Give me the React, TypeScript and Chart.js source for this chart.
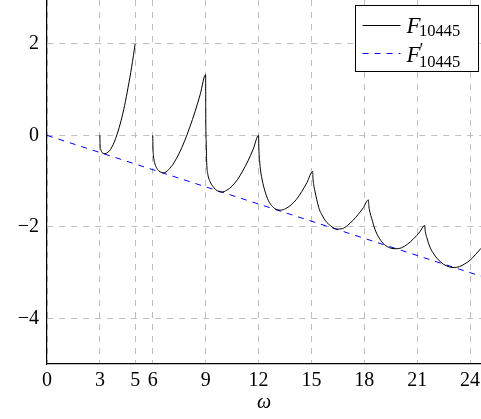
import React, { useEffect, useRef } from "react";
import { Chart, registerables } from "chart.js";

Chart.register(...registerables);

// F_10445 (black); null breaks the curve between 5 and 6
const omegaF = [
  3.0, 3.01, 3.04, 3.09, 3.17, 3.29, 3.45, 3.6, 3.8, 4.0, 4.2, 4.4, 4.6, 4.8, 5.0,
  5.5,
  6.0, 6.01, 6.04, 6.1, 6.2, 6.35, 6.5, 6.62, 6.9, 7.2, 7.5, 7.8, 8.1, 8.4, 8.7, 9.0,
  9.005, 9.03, 9.06, 9.12, 9.25, 9.4, 9.55, 9.75, 9.9, 10.2, 10.5, 10.8, 11.1, 11.4, 11.7, 12.0,
  12.02, 12.06, 12.12, 12.22, 12.35, 12.55, 12.8, 13.05, 13.25, 13.55, 13.85, 14.15, 14.45, 14.75, 15.07,
  15.09, 15.13, 15.2, 15.3, 15.45, 15.6, 15.8, 16.1, 16.45, 16.75, 17.05, 17.35, 17.65, 17.95, 18.23,
  18.26, 18.32, 18.42, 18.6, 18.85, 19.15, 19.45, 19.8, 20.1, 20.45, 20.8, 21.15, 21.42,
  21.46, 21.55, 21.7, 21.9, 22.15, 22.5, 22.85, 23.1, 23.4, 23.7, 24.0, 24.3, 24.62,
];
const valueF: (number | null)[] = [
  0.0, -0.18, -0.29, -0.35, -0.39, -0.4, -0.37, -0.31, -0.16, 0.05, 0.32, 0.65, 1.05, 1.49, 2.0,
  null,
  0.0, -0.25, -0.45, -0.59, -0.7, -0.78, -0.81, -0.82, -0.75, -0.6, -0.39, -0.13, 0.18, 0.52, 0.91, 1.33,
  0.6, -0.12, -0.6, -0.84, -1.01, -1.11, -1.18, -1.23, -1.24, -1.2, -1.11, -0.97, -0.78, -0.56, -0.3, 0.0,
  -0.3, -0.55, -0.78, -1.0, -1.2, -1.42, -1.56, -1.625, -1.635, -1.6, -1.52, -1.4, -1.23, -1.03, -0.79,
  -0.95, -1.08, -1.22, -1.4, -1.62, -1.74, -1.87, -1.98, -2.05, -2.04, -1.97, -1.86, -1.73, -1.58, -1.41,
  -1.55, -1.68, -1.82, -2.05, -2.25, -2.39, -2.46, -2.48, -2.46, -2.38, -2.26, -2.11, -1.97,
  -2.1, -2.24, -2.42, -2.57, -2.7, -2.82, -2.88, -2.89, -2.87, -2.81, -2.73, -2.61, -2.47,
];

// F'_10445 (blue dashed)
const omegaFp = [0, 24.62];
const valueFp = [0, -3.08];

// axes
const xTicks = [0, 3, 5, 6, 9, 12, 15, 18, 21, 24];
const yTicks = [-4, -2, 0, 2];
const xRange = [0, 24.62];
const yRange = [-5, 2.96];
const xTitle = "ω";

// legend
const legendBase = ["F", "F"];
const legendPrime = ["", "′"];
const legendSub = ["10445", "10445"];
const legendColors = ["#000000", "#0000ff"];
const legendDash = [[], [6, 6]];

const SERIF = '"Liberation Serif", "DejaVu Serif", serif';

const texLegend = {
  id: "texLegend",
  afterDraw(chart: any) {
    const ctx = chart.ctx as CanvasRenderingContext2D;
    const area = chart.chartArea;
    const w = 123;
    const h = 66;
    const x0 = Math.round(area.right - w - 3) + 0.5;
    const y0 = Math.round(area.top + 5) + 0.5;
    ctx.save();
    ctx.fillStyle = "#ffffff";
    ctx.fillRect(x0, y0, w, h);
    ctx.strokeStyle = "#000000";
    ctx.lineWidth = 1;
    ctx.strokeRect(x0, y0, w, h);
    for (let i = 0; i < legendBase.length; i++) {
      const ly = y0 + 19 + i * 28.5;
      ctx.beginPath();
      ctx.strokeStyle = legendColors[i];
      ctx.setLineDash(legendDash[i]);
      ctx.moveTo(x0 + 7, Math.round(ly) + 0.5);
      ctx.lineTo(x0 + 45, Math.round(ly) + 0.5);
      ctx.stroke();
      ctx.setLineDash([]);
      ctx.fillStyle = "#000000";
      ctx.textBaseline = "alphabetic";
      ctx.textAlign = "left";
      const base = ly + 8.5;
      ctx.font = `italic 23px ${SERIF}`;
      ctx.fillText(legendBase[i], x0 + 51, base);
      const fw = ctx.measureText(legendBase[i]).width;
      if (legendPrime[i]) {
        ctx.font = `18px ${SERIF}`;
        ctx.fillText(legendPrime[i], x0 + 51 + fw - 1, base - 6);
      }
      ctx.font = `16.5px ${SERIF}`;
      ctx.fillText(legendSub[i], x0 + 51 + fw - 1.5, base + (legendPrime[i] ? 5 : 3));
    }
    ctx.restore();
  },
};

export default function App() {
  const ref = useRef<HTMLCanvasElement | null>(null);

  useEffect(() => {
    if (!ref.current) return;
    const fData = omegaF.map((x, i) => ({ x, y: valueF[i] }));
    const fpData = omegaFp.map((x, i) => ({ x, y: valueFp[i] }));
    const chart = new Chart(ref.current, {
      type: "line",
      data: {
        datasets: [
          {
            label: "F_10445",
            data: fData as any,
            borderColor: "#000000",
            borderWidth: 1,
            pointRadius: 0,
            cubicInterpolationMode: "monotone",
            spanGaps: false,
            fill: false,
          },
          {
            label: "F'_10445",
            data: fpData as any,
            borderColor: "#0000ff",
            borderWidth: 1,
            borderDash: [6, 6],
            pointRadius: 0,
            tension: 0,
            fill: false,
          },
        ],
      },
      options: {
        animation: false,
        responsive: false,
        devicePixelRatio: 1,
        layout: { padding: 0, autoPadding: false },
        plugins: {
          legend: { display: false },
          tooltip: { enabled: false },
        },
        scales: {
          x: {
            type: "linear",
            min: xRange[0],
            max: xRange[1],
            afterBuildTicks: (s: any) => {
              s.ticks = xTicks.map((v) => ({ value: v }));
            },
            afterFit: (s: any) => {
              s.height = 55;
              s.paddingLeft = 0;
              s.paddingRight = 0;
            },
            ticks: {
              autoSkip: false,
              maxRotation: 0,
              padding: 5,
              color: "#000000",
              font: { family: SERIF, size: 20 },
              callback: (v: any) => String(v).replace("-", "−"),
            },
            grid: {
              color: "#bfbfbf",
              lineWidth: 1,
              drawTicks: false,
            },
            border: { display: true, color: "#000000", width: 1.2, dash: [6, 6] as any },
            title: {
              display: true,
              text: xTitle,
              color: "#000000",
              font: { family: SERIF, size: 20, style: "italic", lineHeight: 1.2 },
              padding: { top: 0, bottom: 4 },
            },
          },
          y: {
            type: "linear",
            min: yRange[0],
            max: yRange[1],
            afterBuildTicks: (s: any) => {
              s.ticks = yTicks.map((v) => ({ value: v }));
            },
            afterFit: (s: any) => {
              s.width = 47;
              s.paddingTop = 0;
              s.paddingBottom = 0;
            },
            ticks: {
              padding: 8,
              color: "#000000",
              font: { family: SERIF, size: 20 },
              callback: (v: any) => String(v).replace("-", "−"),
            },
            grid: {
              color: "#bfbfbf",
              lineWidth: 1,
              drawTicks: false,
            },
            border: { display: true, color: "#000000", width: 1.2, dash: [6, 6] as any },
          },
        },
      },
      plugins: [texLegend],
    });
    return () => chart.destroy();
  }, []);

  return (
    <div style={{ position: "fixed", left: 0, top: 0, width: 481, height: 419, background: "#ffffff" }}>
      <canvas ref={ref} width={481} height={419} style={{ display: "block" }} />
    </div>
  );
}
